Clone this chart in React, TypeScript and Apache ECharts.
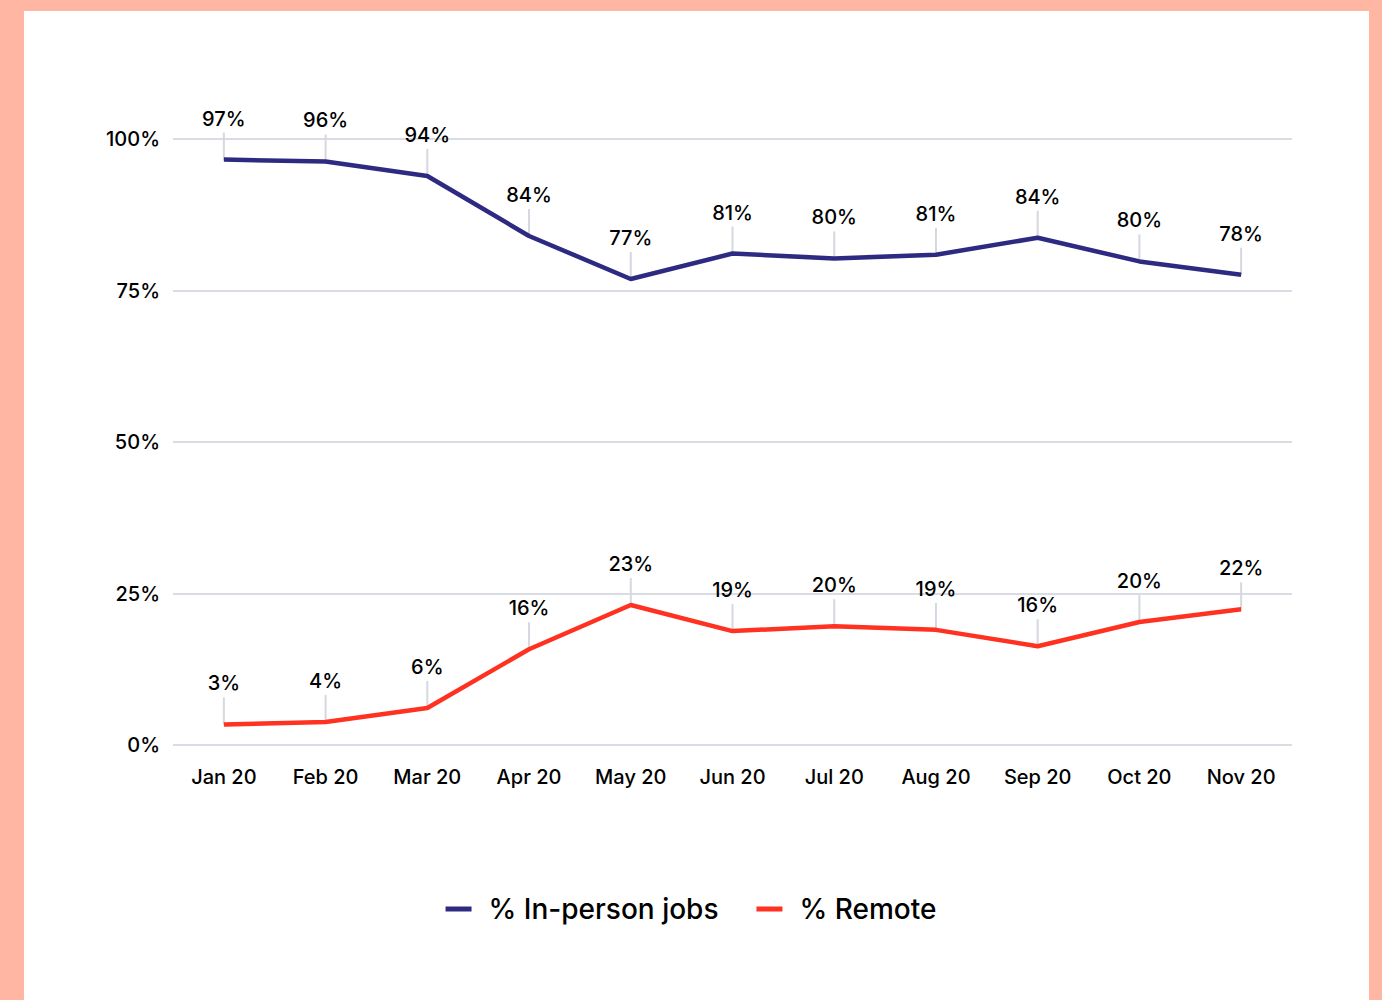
import React, { useEffect, useRef } from "react";
import * as echarts from "echarts";

const months = ["Jan 20", "Feb 20", "Mar 20", "Apr 20", "May 20", "Jun 20", "Jul 20", "Aug 20", "Sep 20", "Oct 20", "Nov 20"];
const inPerson = [96.6, 96.3, 93.9, 84.0, 76.9, 81.1, 80.3, 80.9, 83.7, 79.8, 77.6];
const remote = [3.4, 3.8, 6.1, 15.8, 23.1, 18.8, 19.6, 19.0, 16.3, 20.3, 22.4];
const yTicks = [0, 25, 50, 75, 100];
const seriesNames = ["% In-person jobs", "% Remote"];

const BLUE = "#2E2A82";
const RED = "#FF3221";
const FONT = "Inter";
const TXT = "#000000";

export default function App() {
  const ref = useRef<HTMLDivElement>(null);
  useEffect(() => {
    if (!ref.current) return;
    const chart = echarts.init(ref.current, undefined, { renderer: "svg" });
    const tickSeries = (vals: number[]) => ({
      type: "scatter",
      data: vals,
      symbol: "rect",
      symbolSize: [2, 27],
      symbolOffset: [0, -13.5],
      itemStyle: { color: "#D5D8DF", opacity: 1 },
      z: 1,
      silent: true,
      label: {
        show: true,
        position: "top",
        distance: 4,
        color: TXT,
        fontFamily: FONT,
        fontWeight: 500,
        fontSize: 20,
        formatter: (p: any) => Math.round(p.value) + "%",
      },
    });
    chart.setOption({
      animation: false,
      backgroundColor: "#FFB6A2",
      textStyle: { fontFamily: FONT },
      graphic: [
        { type: "rect", shape: { x: 24, y: 11, width: 1345, height: 989 }, style: { fill: "#ffffff" }, z: -10 },
      ],
      grid: { left: 173, right: 90, top: 139, bottom: 255 },
      legend: {
        data: seriesNames,
        bottom: 72,
        left: "center",
        icon: "rect",
        itemWidth: 26,
        itemHeight: 5,
        itemGap: 38,
        textStyle: { fontFamily: FONT, fontWeight: 500, fontSize: 28, color: TXT, padding: [0, 0, 0, 12] },
      },
      xAxis: {
        type: "category",
        data: months,
        boundaryGap: true,
        axisLine: { show: false },
        axisTick: { show: false },
        axisLabel: { color: TXT, fontFamily: FONT, fontWeight: 500, fontSize: 20, margin: 22 },
      },
      yAxis: {
        type: "value",
        min: yTicks[0],
        max: yTicks[yTicks.length - 1],
        interval: 25,
        axisLabel: { color: TXT, fontFamily: FONT, fontWeight: 500, fontSize: 20, margin: 13, formatter: "{value}%" },
        splitLine: { lineStyle: { color: "#DADCE3", width: 2 } },
        axisLine: { show: false },
        axisTick: { show: false },
      },
      series: [
        tickSeries(inPerson),
        tickSeries(remote),
        {
          name: seriesNames[0],
          type: "line",
          data: inPerson,
          symbol: "none",
          lineStyle: { color: BLUE, width: 4.5 },
          itemStyle: { color: BLUE },
          z: 3,
        },
        {
          name: seriesNames[1],
          type: "line",
          data: remote,
          symbol: "none",
          lineStyle: { color: RED, width: 4.5 },
          itemStyle: { color: RED },
          z: 3,
        },
      ],
    });
    return () => chart.dispose();
  }, []);
  return (
    <div
      ref={ref}
      style={{ position: "absolute", left: 0, top: 0, width: 1382, height: 1000 }}
    />
  );
}
